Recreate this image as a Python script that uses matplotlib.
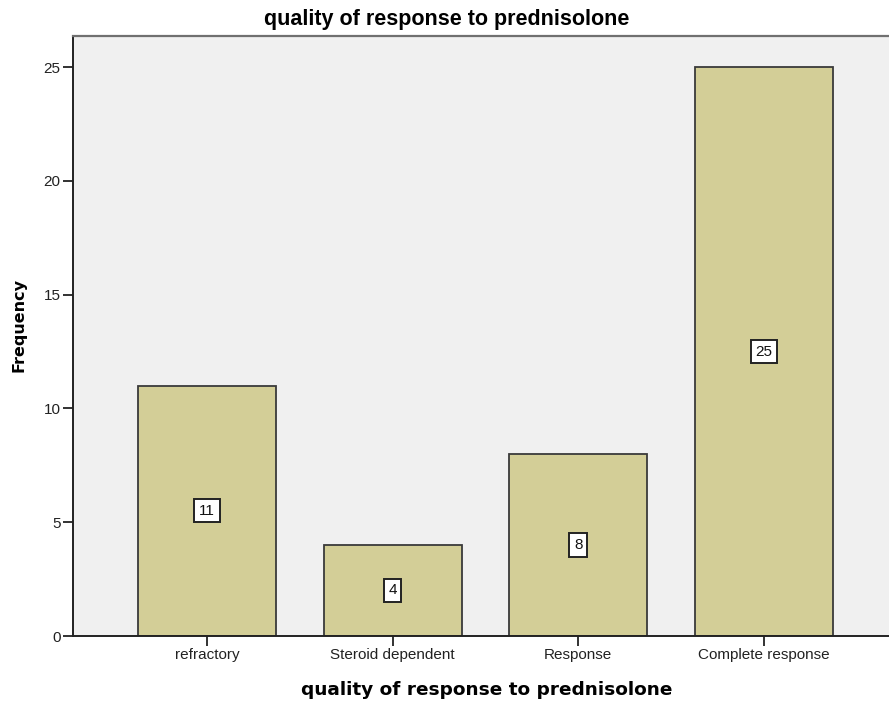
import matplotlib
matplotlib.use("Agg")
import matplotlib.pyplot as plt

categories = ["refractory", "Steroid dependent", "Response", "Complete response"]
counts = [11, 4, 8, 25]
y_ticks = [0, 5, 10, 15, 20, 25]

W, H, DPI = 889, 703, 100
fig = plt.figure(figsize=(W / DPI, H / DPI), dpi=DPI)
left, right, bottom, top = 73, 889, 636, 36
ax = fig.add_axes([left / W, 1 - bottom / H, (right - left) / W, (bottom - top) / H])
ax.set_facecolor("#f0f0f0")

x = list(range(len(categories)))
ax.bar(x, counts, width=0.744, color="#d3ce97", edgecolor="#3a3a3a", linewidth=1.3, zorder=2)

# value labels in white boxes at half the bar height
for xi, c in zip(x, counts):
    ax.text(xi, c / 2, str(c), ha="center", va="center", fontsize=11,
            family="Liberation Sans", color="#111111", zorder=3,
            bbox=dict(boxstyle="square,pad=0.3", facecolor="white",
                      edgecolor="#222222", linewidth=1.4))

ax.set_xlim(-0.722, 3.674)
ax.set_ylim(0, 26.37)
ax.set_yticks(y_ticks)
ax.set_xticks(x)
ax.set_xticklabels(categories, family="Liberation Sans", fontsize=11, color="#222222")
ax.set_yticklabels([str(t) for t in y_ticks], family="Liberation Sans", fontsize=11, color="#222222")
ax.tick_params(axis="both", direction="out", length=7, width=1.3, color="#222222", pad=2)

ax.spines["right"].set_visible(False)
ax.spines["top"].set_color("#707070")
ax.spines["top"].set_linewidth(1.6)
for s in ["left", "bottom"]:
    ax.spines[s].set_color("#222222")
    ax.spines[s].set_linewidth(1.4)

fig.text(447 / W, 1 - 20 / H, "quality of response to prednisolone",
         ha="center", va="center", fontsize=15.5, fontweight="bold", family="Liberation Sans")
fig.text(487 / W, 1 - 690 / H, "quality of response to prednisolone",
         ha="center", va="center", fontsize=13.3, fontweight="bold", family="DejaVu Sans")
fig.text(19 / W, 1 - 325 / H, "Frequency", ha="center", va="center", rotation=90,
         fontsize=11.5, fontweight="bold", family="DejaVu Sans")

fig.savefig("out.png", dpi=DPI)
